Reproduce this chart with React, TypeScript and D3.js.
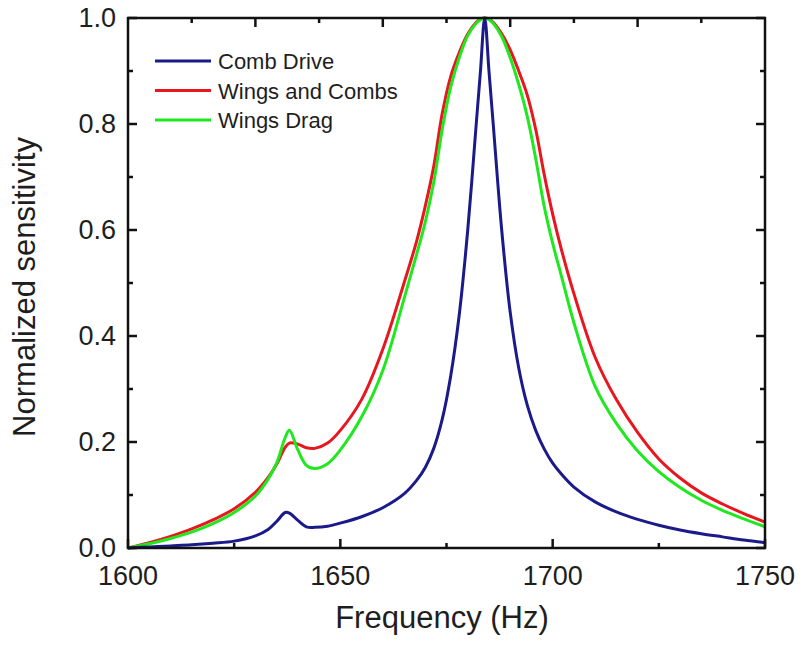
import React from 'react';
import * as d3 from 'd3';

// frequency grid (Hz) shared by the three series
const freq = [
  1600, 1605, 1610, 1615, 1620, 1625, 1630, 1633, 1635, 1637, 1638, 1640, 1642, 1644, 1647,
  1650, 1655, 1660, 1665, 1668, 1670, 1672, 1674, 1676, 1678, 1680, 1682, 1683, 1684, 1685,
  1686, 1688, 1690, 1692, 1694, 1696, 1698, 1700, 1702, 1705, 1710, 1715, 1720, 1725, 1730,
  1735, 1740, 1745, 1750,
];

const combDrive = [
  0, 0.002, 0.004, 0.006, 0.009, 0.013, 0.023, 0.035, 0.05, 0.067, 0.066, 0.052, 0.04, 0.039, 0.041,
  0.047, 0.059, 0.076, 0.102, 0.128, 0.152, 0.188, 0.243, 0.325, 0.44, 0.6, 0.8, 0.9, 1.0, 0.9,
  0.8, 0.6, 0.445, 0.34, 0.27, 0.222, 0.187, 0.16, 0.14, 0.115, 0.087, 0.068, 0.054, 0.043, 0.034,
  0.027, 0.021, 0.015, 0.01,
];

const wingsAndCombs = [
  0, 0.01, 0.022, 0.036, 0.053, 0.074, 0.105, 0.133, 0.158, 0.19, 0.198, 0.196, 0.189, 0.188, 0.198,
  0.222, 0.28, 0.375, 0.5, 0.58, 0.645, 0.72, 0.82, 0.89, 0.935, 0.97, 0.992, 0.998, 1.0, 0.998,
  0.992, 0.97, 0.94, 0.9, 0.855, 0.79, 0.705, 0.63, 0.565, 0.48, 0.36, 0.28, 0.218, 0.168, 0.132,
  0.104, 0.083, 0.065, 0.049,
];

const wingsDrag = [
  0, 0.008, 0.018, 0.03, 0.046, 0.067, 0.098, 0.13, 0.16, 0.208, 0.222, 0.185, 0.156, 0.15, 0.159,
  0.185, 0.247, 0.335, 0.47, 0.555, 0.615, 0.69, 0.79, 0.87, 0.925, 0.967, 0.99, 0.997, 1.0, 0.997,
  0.99, 0.965, 0.925, 0.875, 0.815, 0.735, 0.645, 0.575, 0.515, 0.425, 0.305, 0.235, 0.183, 0.144, 0.114,
  0.09, 0.071, 0.055, 0.04,
];

const seriesNames = ['Comb Drive', 'Wings and Combs', 'Wings Drag'];
const seriesColors = ['#1b1a8a', '#e8161e', '#1fe81f'];

const xTickValues = [1600, 1650, 1700, 1750];
const yTickValues = [0, 0.2, 0.4, 0.6, 0.8, 1.0];

const width = 803;
const height = 647;
const margin = { top: 18, right: 38, bottom: 99, left: 128 };
const font = '"Liberation Sans", Arial, Helvetica, sans-serif';
const textColor = '#1e1e1e';

const App = () => {
  const x = d3
    .scaleLinear()
    .domain([1600, 1750])
    .range([margin.left, width - margin.right]);
  const y = d3
    .scaleLinear()
    .domain([0, 1])
    .range([height - margin.bottom, margin.top]);

  const line = d3
    .line<number>()
    .x((_, i) => x(freq[i]))
    .y((d) => y(d))
    .curve(d3.curveCatmullRom.alpha(0.5));

  const x0 = x(1600);
  const x1 = x(1750);
  const y0 = y(0);
  const y1 = y(1);

  // minor ticks half way between the majors
  const xMinor = d3.range(1625, 1750, 50);
  const yMinor = d3.range(0.1, 1, 0.2);
  // the top axis of the original uses its own 30 Hz spacing
  const topMajor = d3.range(1630, 1750, 30);
  const topMinor = d3.range(1615, 1750, 30);

  const major = 9;
  const minor = 5;

  // draw order: red, green, blue on top
  const drawOrder = [1, 2, 0];
  const values = [combDrive, wingsAndCombs, wingsDrag];

  return (
    <svg
      width={width}
      height={height}
      style={{ position: 'absolute', left: 0, top: 0, background: '#fff' }}
    >
      {drawOrder.map((k) => (
        <path
          key={seriesNames[k]}
          d={line(values[k]) || ''}
          fill="none"
          stroke={seriesColors[k]}
          strokeWidth={3}
          strokeLinejoin="round"
        />
      ))}

      <g stroke="#111" strokeWidth={2.5}>
        <rect x={x0} y={y1} width={x1 - x0} height={y0 - y1} fill="none" />
        {xTickValues.map((t) => (
          <line key={'xb' + t} x1={x(t)} x2={x(t)} y1={y0} y2={y0 - major} />
        ))}
        {xMinor.map((t) => (
          <line key={'xbm' + t} x1={x(t)} x2={x(t)} y1={y0} y2={y0 - minor} />
        ))}
        {topMajor.map((t) => (
          <line key={'xt' + t} x1={x(t)} x2={x(t)} y1={y1} y2={y1 + major} />
        ))}
        {topMinor.map((t) => (
          <line key={'xtm' + t} x1={x(t)} x2={x(t)} y1={y1} y2={y1 + minor} />
        ))}
        {yTickValues.map((t) => (
          <g key={'y' + t}>
            <line x1={x0} x2={x0 + major} y1={y(t)} y2={y(t)} />
            <line x1={x1} x2={x1 - major} y1={y(t)} y2={y(t)} />
          </g>
        ))}
        {yMinor.map((t) => (
          <g key={'ym' + t}>
            <line x1={x0} x2={x0 + minor} y1={y(t)} y2={y(t)} />
            <line x1={x1} x2={x1 - minor} y1={y(t)} y2={y(t)} />
          </g>
        ))}
      </g>

      <g fontFamily={font} fontSize={27} fill={textColor}>
        {xTickValues.map((t) => (
          <text key={'xl' + t} x={x(t)} y={y0 + 37} textAnchor="middle">
            {t}
          </text>
        ))}
        {yTickValues.map((t) => (
          <text key={'yl' + t} x={x0 - 12} y={y(t) + 9} textAnchor="end">
            {d3.format('.1f')(t)}
          </text>
        ))}
        <text x={442} y={y0 + 80} textAnchor="middle" fontSize={31}>
          Frequency (Hz)
        </text>
        <text
          transform={`translate(35,${(y0 + y1) / 2 + 4}) rotate(-90)`}
          textAnchor="middle"
          fontSize={31}
        >
          Normalized sensitivity
        </text>
      </g>

      <g fontFamily={font} fontSize={22} fill={textColor}>
        {seriesNames.map((name, i) => (
          <g key={name} transform={`translate(155,${61 + i * 29.5})`}>
            <line x1={0} x2={56} y1={0} y2={0} stroke={seriesColors[i]} strokeWidth={3} />
            <text x={63} y={8}>
              {name}
            </text>
          </g>
        ))}
      </g>
    </svg>
  );
};

export default App;
